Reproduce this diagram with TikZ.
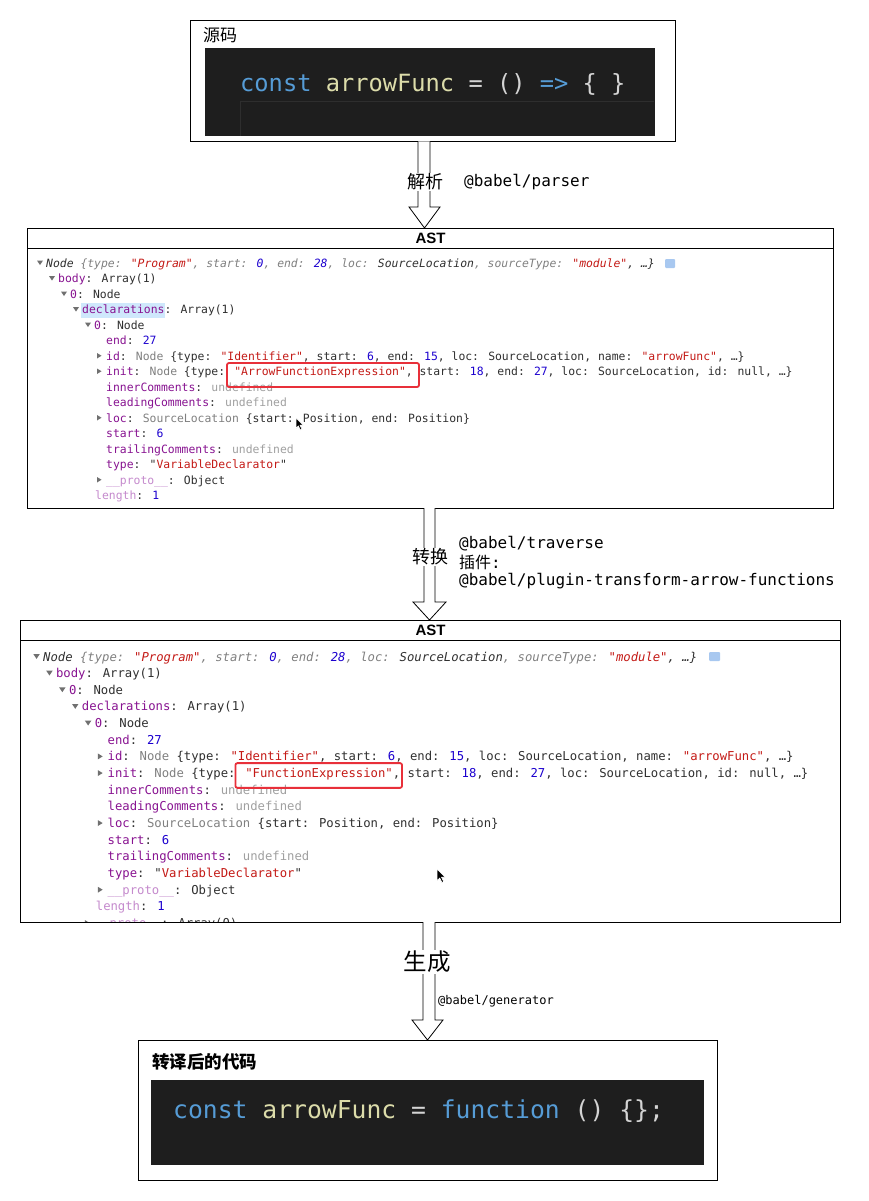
\documentclass[tikz,border=0pt]{standalone}
\usepackage{fontspec}
\setmainfont{Liberation Sans}
\newfontfamily\cjk{Noto Sans CJK SC}
\newfontfamily\dmono{DejaVu Sans Mono}
\definecolor{codebg}{HTML}{1E1E1E}
\definecolor{codeedge}{HTML}{2E2E2E}
\definecolor{kwblue}{HTML}{569CD6}
\definecolor{fnyel}{HTML}{DCDCAA}
\definecolor{codefg}{HTML}{D4D4D4}
\definecolor{kp}{HTML}{881391}
\definecolor{sr}{HTML}{C41A16}
\definecolor{nb}{HTML}{1C00CF}
\definecolor{gy}{HTML}{808080}
\definecolor{ugy}{HTML}{A0A0A0}
\definecolor{dk}{HTML}{303030}
\definecolor{lp}{HTML}{C58ACD}
\definecolor{hl}{HTML}{CFE8FC}
\definecolor{redbox}{HTML}{E8303A}
\definecolor{infoic}{HTML}{A8C8F0}
\definecolor{trig}{HTML}{707070}
\def\astfs{11.4}
\tikzset{
  box/.style={draw=black, line width=1pt, fill=white, inner sep=0pt, anchor=north west},
  panel/.style={fill=codebg, inner sep=0pt, anchor=north west},
  blockarrow/.style={draw=black, line width=0.8pt, fill=white},
  arrowlabel/.style={fill=white, inner sep=1pt, font=\cjk\fontsize{18}{18}\selectfont},
  pkg/.style={anchor=base west, inner sep=0pt, font=\dmono\fontsize{16}{16}\selectfont},
  astline/.style={anchor=base west, inner sep=0pt, font=\dmono\fontsize{\astfs}{\astfs}\selectfont},
  asthead/.style={inner sep=0pt, font=\bfseries\fontsize{15}{15}\selectfont},
  redframe/.style={draw=redbox, line width=1.8pt, rounded corners=2pt},
  cursor/.style={fill=black, draw=white, line width=0.6pt},
  codeline/.style={anchor=base west, inner sep=0pt},
}
\newcommand\tridown[2]{\fill[trig] (#1-9,#2-6.5) -- ++(6,0) -- ++(-3,4.5) -- cycle;}
\newcommand\triright[2]{\fill[trig] (#1-9,#2-7) -- ++(0,5.5) -- ++(4.5,-2.75) -- cycle;}
\newcommand\astbody[2]{%
\node[astline] (#1a) at (0,0) {\itshape\color{dk}Node \color{gy}\{type: \color{sr}"Program"\color{gy}, start: \color{nb}0\color{gy}, end: \color{nb}28\color{gy}, loc: \color{dk}SourceLocation\color{gy}, sourceType: \color{sr}"module"\color{dk}, …\}};
\tridown{0}{0}
\node[astline] (#1b) at (12,15.5) {\color{kp}body\color{dk}: Array(1)};
\tridown{12}{15.5}
\node[astline] (#1c) at (24,31) {\color{kp}0\color{dk}: Node};
\tridown{24}{31}
\node[astline] (#1d) at (36,46.5) {\color{kp}declarations\color{dk}: Array(1)};
\tridown{36}{46.5}
\node[astline] (#1e) at (48,62) {\color{kp}0\color{dk}: Node};
\tridown{48}{62}
\node[astline] (#1f) at (60,77.5) {\color{kp}end\color{dk}: \color{nb}27};
\node[astline] (#1g) at (60,93) {\color{kp}id\color{dk}: \color{gy}Node \color{dk}\{type: \color{sr}"Identifier"\color{dk}, start: \color{nb}6\color{dk}, end: \color{nb}15\color{dk}, loc: SourceLocation, name: \color{sr}"arrowFunc"\color{dk}, …\}};
\triright{60}{93}
\node[astline] (#1h) at (60,108.5) {\color{kp}init\color{dk}: \color{gy}Node \color{dk}\{type: \color{sr}"#2"\color{dk}, start: \color{nb}18\color{dk}, end: \color{nb}27\color{dk}, loc: SourceLocation, id: null, …\}};
\triright{60}{108.5}
\node[astline] (#1i) at (60,124) {\color{kp}innerComments\color{dk}: \color{ugy}undefined};
\node[astline] (#1j) at (60,139.5) {\color{kp}leadingComments\color{dk}: \color{ugy}undefined};
\node[astline] (#1k) at (60,155) {\color{kp}loc\color{dk}: \color{gy}SourceLocation \color{dk}\{start: Position, end: Position\}};
\triright{60}{155}
\node[astline] (#1l) at (60,170.5) {\color{kp}start\color{dk}: \color{nb}6};
\node[astline] (#1m) at (60,186) {\color{kp}trailingComments\color{dk}: \color{ugy}undefined};
\node[astline] (#1n) at (60,201.5) {\color{kp}type\color{dk}: "\color{sr}VariableDeclarator\color{dk}"};
\node[astline] (#1o) at (60,217) {\color{lp}\_\_proto\_\_\color{dk}: Object};
\triright{60}{217}
\node[astline] (#1p) at (49,232.5) {\color{lp}length\color{dk}: \color{nb}1};
}
\newcommand\mousecursor[3]{\filldraw[cursor] (#1,#2) -- ++(0,13*#3) -- ++(3*#3,-3*#3) -- ++(2.5*#3,5*#3) -- ++(2*#3,-1*#3) -- ++(-2.5*#3,-5*#3) -- ++(4*#3,0) -- cycle;}
\begin{document}
\begin{tikzpicture}[x=1pt,y=-1pt]
\path[use as bounding box, fill=white] (0,0) rectangle (869,1201);

% ---------- source box ----------
\node[box, minimum width=485pt, minimum height=121pt] (srcbox) at (190,20) {};
\node[anchor=west, inner sep=0pt, font=\cjk\fontsize{17}{17}\selectfont] (srclabel) at (203,35) {源码};
\node[panel, minimum width=450pt, minimum height=88pt] (srcpanel) at (205,48) {};
\draw[codeedge, line width=1pt] (240,136) -- (240,102) -- (654,102);
\node[codeline, font=\dmono\fontsize{23.7}{24}\selectfont] (srccode) at (240,92) {\color{kwblue}const \color{fnyel}arrowFunc \color{codefg}= () \color{kwblue}=> \color{codefg}\{ \}};

% ---------- arrow 1 ----------
\filldraw[blockarrow] (418,141.5) -- (418,207) -- (409,207) -- (424.5,228) -- (440,207) -- (430,207) -- (430,141.5);
\node[arrowlabel] (lbl1) at (425,182) {解析};
\node[pkg] (pkg1) at (464,186) {@babel/parser};

% ---------- AST 1 ----------
\node[box, minimum width=806pt, minimum height=280pt] (ast1) at (27,228) {};
\draw[line width=1pt] (27,248) -- (833,248);
\node[asthead] (ast1h) at (430.5,238) {AST};
\fill[hl] (81,303) rectangle (165,318);
\begin{scope}[shift={(46,267)}]
\astbody{p}{ArrowFunctionExpression}
\draw[redframe] (181,96) rectangle (373,120);
\end{scope}
\fill[infoic, rounded corners=1pt] (665,259) rectangle (675,268);
\mousecursor{296}{418}{0.8}

% ---------- arrow 2 ----------
\filldraw[blockarrow] (424,508) -- (424,602) -- (413,602) -- (429.5,620) -- (446,602) -- (435,602) -- (435,508);
\node[arrowlabel] (lbl2) at (430,557) {转换};
\node[pkg] (pkg2a) at (459,548) {@babel/traverse};
\node[anchor=base west, inner sep=0pt] (pkg2b) at (459,568) {{\cjk\fontsize{16}{16}\selectfont 插件}{\dmono\fontsize{16}{16}\selectfont :}};
\node[pkg] (pkg2c) at (459,585) {@babel/plugin-transform-arrow-functions};

% ---------- AST 2 ----------
\node[box, minimum width=820pt, minimum height=302pt] (ast2) at (20,620) {};
\draw[line width=1pt] (20,640) -- (840,640);
\node[asthead] (ast2h) at (430.5,630) {AST};
\begin{scope}
\clip (20.5,640.5) rectangle (839.5,921.5);
\def\astfs{12.25}
\begin{scope}[shift={(43,661)}, scale=1.075]
\astbody{q}{FunctionExpression}
\node[astline] (qx) at (48,248) {\color{lp}\_\_proto\_\_\color{dk}: Array(0)};
\triright{48}{248}
\draw[redframe] (179,95) rectangle (334,118);
\end{scope}
\end{scope}
\draw[line width=1pt] (20,620) rectangle (840,922);
\fill[infoic, rounded corners=1pt] (709,652) rectangle (720,661);
\mousecursor{437}{869}{0.9}

% ---------- arrow 3 ----------
\filldraw[blockarrow] (423,922) -- (423,1020) -- (412,1020) -- (427.5,1040) -- (443,1020) -- (435,1020) -- (435,922);
\node[fill=white, inner sep=1pt, font=\cjk\fontsize{23.5}{24}\selectfont] (lbl3) at (427,962) {生成};
\node[anchor=base west, inner sep=0pt, font=\dmono\fontsize{12}{12}\selectfont] (pkg3) at (438,1004) {@babel/generator};

% ---------- output box ----------
\node[box, minimum width=579pt, minimum height=140pt] (outbox) at (138,1040) {};
\node[anchor=west, inner sep=0pt, font=\cjk\bfseries\fontsize{17.5}{18}\selectfont] (outlabel) at (152,1062) {转译后的代码};
\node[panel, minimum width=553pt, minimum height=85pt] (outpanel) at (151,1080) {};
\node[codeline, font=\dmono\fontsize{24.7}{25}\selectfont] (outcode) at (173,1118) {\color{kwblue}const \color{fnyel}arrowFunc \color{codefg}= \color{kwblue}function \color{codefg}() \{\};};
\end{tikzpicture}
\end{document}
